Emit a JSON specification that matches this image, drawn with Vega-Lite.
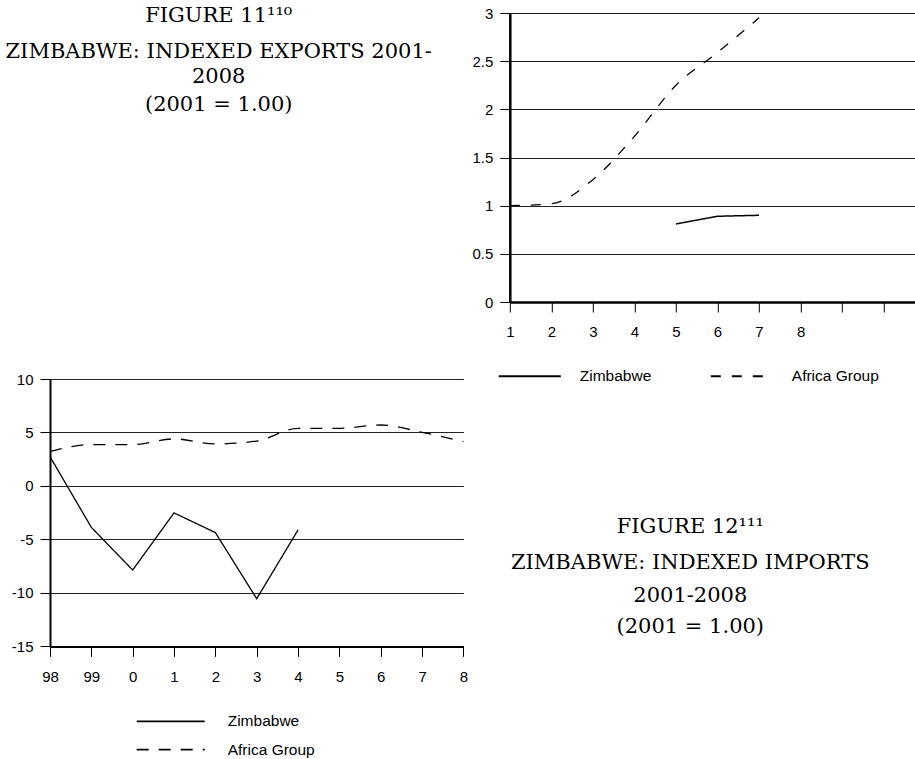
{
  "$schema": "https://vega.github.io/schema/vega-lite/v6.json",
  "padding": {"left": 5, "top": 4, "right": 0, "bottom": 0},
  "background": "white",
  "config": {
    "view": {"stroke": null},
    "font": "Liberation Sans",
    "axis": {
      "title": null,
      "labelFont": "Liberation Sans",
      "labelFontSize": 15,
      "labelColor": "black",
      "domainColor": "black",
      "tickColor": "black",
      "tickWidth": 1,
      "tickSize": 10,
      "gridColor": "#222222",
      "gridWidth": 1,
      "labelOverlap": false,
      "labelFlush": false
    },
    "legend": {
      "labelFont": "Liberation Sans",
      "labelColor": "black",
      "symbolStrokeColor": "black",
      "symbolStrokeWidth": 2,
      "padding": 0
    }
  },
  "datasets": {
    "exports": [
      {"t": 1, "series": "Africa Group", "v": 1.0},
      {"t": 2, "series": "Africa Group", "v": 1.02},
      {"t": 3, "series": "Africa Group", "v": 1.27},
      {"t": 4, "series": "Africa Group", "v": 1.72},
      {"t": 5, "series": "Africa Group", "v": 2.25},
      {"t": 6, "series": "Africa Group", "v": 2.59},
      {"t": 7, "series": "Africa Group", "v": 2.95},
      {"t": 5, "series": "Zimbabwe", "v": 0.81},
      {"t": 6, "series": "Zimbabwe", "v": 0.89},
      {"t": 7, "series": "Zimbabwe", "v": 0.9}
    ],
    "imports": [
      {"yr": "98", "series": "Zimbabwe", "v": 2.74},
      {"yr": "99", "series": "Zimbabwe", "v": -3.87},
      {"yr": "0", "series": "Zimbabwe", "v": -7.86},
      {"yr": "1", "series": "Zimbabwe", "v": -2.52},
      {"yr": "2", "series": "Zimbabwe", "v": -4.36},
      {"yr": "3", "series": "Zimbabwe", "v": -10.54},
      {"yr": "4", "series": "Zimbabwe", "v": -4.11},
      {"yr": "98", "series": "Africa Group", "v": 3.24},
      {"yr": "99", "series": "Africa Group", "v": 3.87},
      {"yr": "0", "series": "Africa Group", "v": 3.87},
      {"yr": "1", "series": "Africa Group", "v": 4.4},
      {"yr": "2", "series": "Africa Group", "v": 3.93},
      {"yr": "3", "series": "Africa Group", "v": 4.2},
      {"yr": "4", "series": "Africa Group", "v": 5.39},
      {"yr": "5", "series": "Africa Group", "v": 5.39},
      {"yr": "6", "series": "Africa Group", "v": 5.7},
      {"yr": "7", "series": "Africa Group", "v": 5.02},
      {"yr": "8", "series": "Africa Group", "v": 4.15}
    ],
    "capA": [
      {"line": 1, "label": "FIGURE 11¹¹⁰"},
      {"line": 2, "label": "ZIMBABWE: INDEXED EXPORTS 2001-"},
      {"line": 3, "label": "2008"},
      {"line": 4, "label": "(2001 = 1.00)"}
    ],
    "capB": [
      {"line": 1, "label": "FIGURE 12¹¹¹"},
      {"line": 2, "label": "ZIMBABWE: INDEXED IMPORTS"},
      {"line": 3, "label": "2001-2008"},
      {"line": 4, "label": "(2001 = 1.00)"}
    ]
  },
  "resolve": {"scale": {"strokeDash": "independent"}, "legend": {"strokeDash": "independent"}},
  "columns": 2,
  "align": "none",
  "bounds": "flush",
  "spacing": {"row": 77, "column": 45.8},
  "concat": [
    {
      "width": 337.4,
      "height": 289,
      "data": {"name": "capA"},
      "mark": {"type": "text", "font": "DejaVu Serif", "fontSize": 21, "color": "black", "baseline": "middle"},
      "encoding": {
        "y": {"field": "line", "type": "quantitative", "scale": {"domain": [1, 2, 3, 4], "range": [2.5, 38.7, 63.7, 92], "zero": false, "nice": false}, "axis": null},
        "text": {"field": "label", "type": "nominal"}
      }
    },
    {
      "width": 406.5,
      "height": 289,
      "data": {"name": "exports"},
      "encoding": {
        "x": {
          "field": "t", "type": "quantitative",
          "scale": {"domain": [1, 10.786], "nice": false, "zero": false},
          "axis": {"values": [1, 2, 3, 4, 5, 6, 7, 8, 9, 10], "labelExpr": "datum.value <= 8 ? datum.label : ''", "grid": false, "domainWidth": 2.5, "labelPadding": 12}
        },
        "y": {
          "field": "v", "type": "quantitative",
          "scale": {"domain": [0, 3], "nice": false},
          "axis": {"values": [0, 0.5, 1, 1.5, 2, 2.5, 3], "labelExpr": "datum.value + ''", "grid": true, "domainWidth": 2.5, "labelPadding": 7}
        },
        "strokeDash": {
          "field": "series", "type": "nominal",
          "scale": {"domain": ["Zimbabwe", "Africa Group"], "range": [[1, 0], [10, 11]]},
          "legend": {"title": null, "orient": "none", "legendX": 9, "legendY": 352, "direction": "horizontal", "columns": 2, "symbolType": "M-3.1,0H3.1", "symbolSize": 400, "labelOffset": 39, "columnPadding": 55, "labelFontSize": 15.5}
        }
      },
      "layer": [
        {"transform": [{"filter": "datum.series === 'Africa Group'"}], "mark": {"type": "line", "interpolate": "monotone", "color": "black", "strokeWidth": 1.3}},
        {"transform": [{"filter": "datum.series === 'Zimbabwe'"}], "mark": {"type": "line", "color": "black", "strokeWidth": 1.5}}
      ]
    },
    {
      "width": 413.4,
      "height": 267.4,
      "data": {"name": "imports"},
      "encoding": {
        "x": {
          "field": "yr", "type": "ordinal", "sort": null,
          "scale": {"type": "point", "padding": 0, "domain": ["98", "99", "0", "1", "2", "3", "4", "5", "6", "7", "8"]},
          "axis": {"labelAngle": 0, "grid": false, "domainWidth": 2, "labelPadding": 13}
        },
        "y": {
          "field": "v", "type": "quantitative",
          "scale": {"domain": [-15, 10], "nice": false, "zero": false},
          "axis": {"values": [-15, -10, -5, 0, 5, 10], "labelExpr": "datum.value + ''", "grid": true, "domainWidth": 2, "labelPadding": 7}
        },
        "strokeDash": {
          "field": "series", "type": "nominal",
          "scale": {"domain": ["Zimbabwe", "Africa Group"], "range": [[1, 0], [12, 10]]},
          "legend": {"title": null, "orient": "none", "legendX": 109.7, "legendY": 331.4, "direction": "vertical", "columns": 1, "symbolType": "M-3.4,0H3.4", "symbolSize": 400, "rowPadding": 8.3, "labelOffset": 46, "labelFontSize": 15.5, "symbolStrokeWidth": 1.7}
        }
      },
      "layer": [
        {"transform": [{"filter": "datum.series === 'Africa Group'"}], "mark": {"type": "line", "interpolate": "monotone", "color": "black", "strokeWidth": 1.3}},
        {"transform": [{"filter": "datum.series === 'Zimbabwe'"}], "mark": {"type": "line", "color": "black", "strokeWidth": 1.3}}
      ]
    },
    {
      "width": 361,
      "height": 267.4,
      "data": {"name": "capB"},
      "mark": {"type": "text", "font": "DejaVu Serif", "fontSize": 21, "color": "black", "baseline": "middle"},
      "encoding": {
        "y": {"field": "line", "type": "quantitative", "scale": {"domain": [1, 2, 3, 4], "range": [148.2, 184.2, 217.2, 247.7], "zero": false, "nice": false}, "axis": null},
        "text": {"field": "label", "type": "nominal"}
      }
    }
  ]
}
